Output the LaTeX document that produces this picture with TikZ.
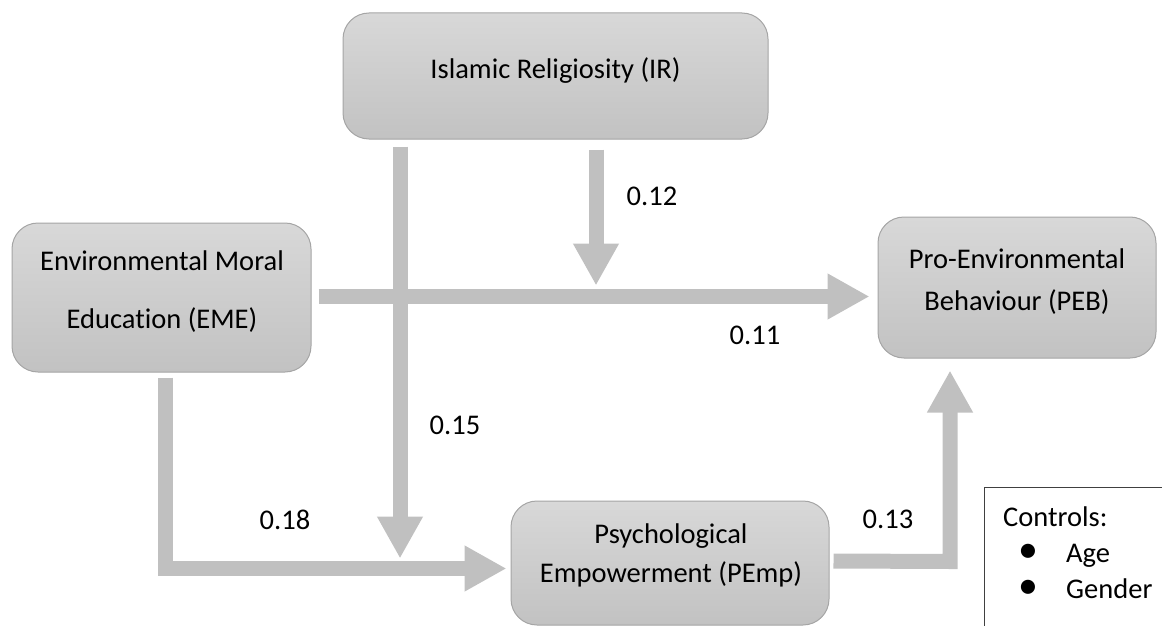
\documentclass[tikz,border=0pt]{standalone}
\usepackage{fontspec}
\setmainfont[RawFeature={-liga;-clig}]{Carlito}
\usetikzlibrary{arrows.meta,calc}
\definecolor{arr}{HTML}{C0C0C0}
\definecolor{boxtop}{HTML}{D8D8D8}
\definecolor{boxbot}{HTML}{C2C2C2}
\definecolor{boxline}{HTML}{A5A5A5}
\definecolor{ctrlline}{HTML}{404040}
\begin{document}
\begin{tikzpicture}[x=1pt,y=-1pt,
  txt/.style={anchor=base, inner sep=0pt, font=\fontsize{28.5}{34}\selectfont},
  boxnode/.style={draw=boxline, line width=1pt, rounded corners=26pt,
    top color=boxtop, bottom color=boxbot, inner sep=0pt},
  bigarrow/.style={draw=arr, line width=15pt, line join=miter,
    -{Triangle[length=42pt,width=43pt]}}]
\useasboundingbox (0,0) rectangle (1162,626);
\clip (0,0) rectangle (1162,626);

% boxes
\node[boxnode, minimum width=425pt, minimum height=126pt] (ir) at (555.5,76) {};
\node[boxnode, minimum width=299pt, minimum height=149pt] (eme) at (161.5,297.5) {};
\node[boxnode, minimum width=278pt, minimum height=141pt] (peb) at (1017,287.5) {};
\node[boxnode, minimum width=318pt, minimum height=124pt] (pemp) at (670,563) {};
\node[draw=ctrlline, line width=0.9pt, minimum width=230pt, minimum height=180pt, inner sep=0pt] (ctrl) at (1099,577) {};

% box texts
\node[txt] (irtxt) at (555.5,78) {Islamic Religiosity (IR)};
\node[txt] (emetxtA) at (162,270) {Environmental Moral};
\node[txt] (emetxtB) at (162,328) {Education (EME)};
\node[txt] (pebtxtA) at (1017,268) {Pro-Environmental};
\node[txt] (pebtxtB) at (1017,310) {Behaviour (PEB)};
\node[txt] (pemptxtA) at (671,543) {Psychological};
\node[txt] (pemptxtB) at (671,582) {Empowerment (PEmp)};

% controls
\node[txt, anchor=base west] (ctrltxt) at (1003,526) {Controls:};
\node[txt] (bulA) at (1028,562) {\scalebox{1.4}{•}};
\node[txt, anchor=base west] (age) at (1066,562) {Age};
\node[txt] (bulB) at (1028,598) {\scalebox{1.4}{•}};
\node[txt, anchor=base west] (gender) at (1066,598) {Gender};

% helper coordinates
\coordinate (corner) at ($(eme.south)+(4,196)$);
\coordinate (elbow) at ($(peb.south)+(-67,205)$);

% connectors
\draw[bigarrow] ($(eme.east)+(7,-1)$) -- ([xshift=-8pt,yshift=1pt]peb.west |- eme.east);
\draw[bigarrow] ($(ir.south)+(40.5,10)$) -- ($(ir.south)+(40.5,146)$);
\draw[bigarrow] ($(ir.south)+(-155.5,7)$) -- ($(corner)+(234.5,-10)$);
\draw[bigarrow] ($(eme.south)+(4,5)$) -- (corner) -- ([xshift=-4pt]pemp.west |- corner);
\draw[bigarrow] ([xshift=4pt,yshift=2pt]pemp.east) -- ($(elbow)+(0,-2)$) -- ($(peb.south)+(-67,12)$);

% coefficient labels
\node[txt] (l12) at (652,205) {0.12};
\node[txt] (l11) at (755,344) {0.11};
\node[txt] (l15) at (455,434) {0.15};
\node[txt] (l18) at (285,529) {0.18};
\node[txt] (l13) at (888,528) {0.13};
\end{tikzpicture}
\end{document}
